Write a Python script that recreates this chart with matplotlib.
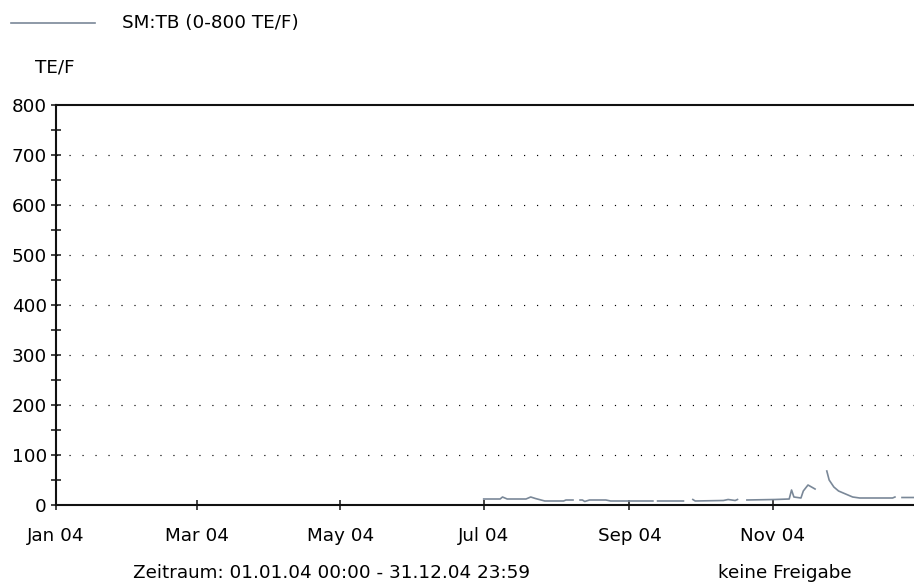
import numpy as np
import matplotlib
matplotlib.use('Agg')
import matplotlib.pyplot as plt
import matplotlib.dates as mdates
from datetime import datetime

plt.rcParams['font.family'] = ['DejaVu Sans']

# measured values (TE/F), None = no data (gap in line)
dates = ['2004-07-01', '2004-07-08', '2004-07-09', '2004-07-11', '2004-07-19', '2004-07-21',
         '2004-07-23', '2004-07-27', '2004-08-04', '2004-08-05', '2004-08-08', '2004-08-09',
         '2004-08-11', '2004-08-12', '2004-08-13', '2004-08-15', '2004-08-22', '2004-08-24',
         '2004-09-11', '2004-09-12', '2004-09-13', '2004-09-24', '2004-09-26', '2004-09-28',
         '2004-09-29', '2004-10-11', '2004-10-13', '2004-10-16', '2004-10-17', '2004-10-19',
         '2004-10-21', '2004-11-02', '2004-11-08', '2004-11-09', '2004-11-10', '2004-11-13',
         '2004-11-14', '2004-11-16', '2004-11-19', '2004-11-21', '2004-11-24', '2004-11-25',
         '2004-11-27', '2004-11-29', '2004-12-02', '2004-12-05', '2004-12-08', '2004-12-22',
         '2004-12-23', '2004-12-24', '2004-12-26', '2004-12-31']
values = [12, 12, 16, 12, 12, 16,
          13, 8, 8, 10, 10, None,
          10, 10, 7, 10, 10, 8,
          8, None, 8, 8, None, 11,
          8, 9, 11, 9, 11, None,
          10, 11, 12, 30, 16, 14,
          28, 40, 32, None, 68, 50,
          36, 28, 22, 16, 14, 14,
          16, None, 15, 15]
series_name = 'SM:TB (0-800 TE/F)'
unit = 'TE/F'
yticks = [0, 100, 200, 300, 400, 500, 600, 700, 800]
period_text = 'Zeitraum: 01.01.04 00:00 - 31.12.04 23:59'
status_text = 'keine Freigabe'

FS = 13.2
W, H = 914, 586
fig = plt.figure(figsize=(W / 100, H / 100), dpi=100)
ax = fig.add_axes([56 / W, (H - 505) / H, (916 - 56) / W, 400 / H])

x = [datetime.strptime(d, '%Y-%m-%d') for d in dates]
y = np.array([np.nan if v is None else v for v in values], dtype=float)
col = '#7a8898'
ax.plot(x, y, color=col, lw=1.2)

ax.set_xlim(datetime(2004, 1, 1), datetime(2004, 12, 31, 23, 0))
ax.set_ylim(0, 800)
ax.set_yticks(yticks)
ax.set_yticks(np.arange(50, 800, 100), minor=True)
ax.xaxis.set_major_locator(mdates.MonthLocator(bymonth=[1, 3, 5, 7, 9, 11]))
ax.xaxis.set_major_formatter(mdates.DateFormatter('%b %y'))

# dotted grid lines
for g in yticks[1:-1]:
    ax.axhline(g, color='black', lw=0.85, linestyle=(0, (1, 10)))

for s in ['left', 'bottom', 'top']:
    ax.spines[s].set_linewidth(1.5)
    ax.spines[s].set_color('#111111')
ax.spines['right'].set_visible(False)

ax.tick_params(axis='both', which='both', direction='inout', length=7, width=1.1,
               color='#111111', labelsize=FS, labelcolor='black')
ax.tick_params(axis='y', pad=3)
ax.tick_params(axis='x', pad=12.5)

# legend
fig.add_artist(plt.Line2D([11 / W, 95 / W], [1 - 23 / H, 1 - 23 / H], color=col, lw=1.2))
fig.text(122 / W, 1 - 23 / H, series_name, fontsize=FS, va='center', ha='left', color='black')
fig.text(35 / W, 1 - 67 / H, unit, fontsize=FS, va='center', ha='left', color='black')

fig.text(133 / W, 1 - 573 / H, period_text, fontsize=FS, va='center', ha='left', color='black')
fig.text(718 / W, 1 - 573 / H, status_text, fontsize=FS, va='center', ha='left', color='black')

fig.savefig('out.png', dpi=100)
